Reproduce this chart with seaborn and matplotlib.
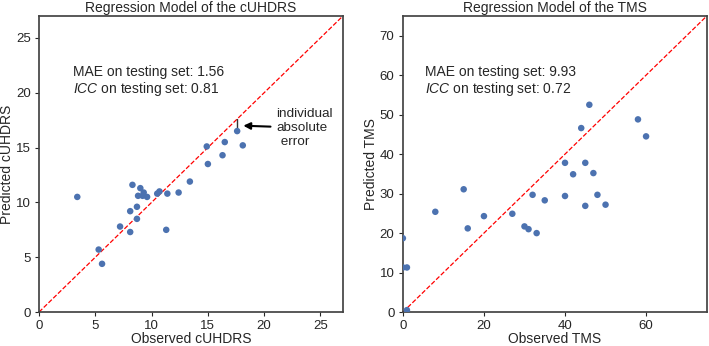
import numpy as np
import pandas as pd
import matplotlib
matplotlib.use('Agg')
import matplotlib.pyplot as plt
import seaborn as sns

# observed vs predicted values
obs_uhdrs = [3.4, 5.3, 5.6, 7.2, 8.1, 8.1, 8.3, 8.7, 8.7, 8.8, 9.0, 9.2, 9.3, 9.6,
             10.5, 10.7, 11.3, 11.4, 12.4, 13.4, 14.9, 15.0, 16.3, 16.5, 17.6, 18.1]
pred_uhdrs = [10.5, 5.7, 4.4, 7.8, 7.3, 9.2, 11.6, 8.5, 9.6, 10.6, 11.3, 10.6, 10.9, 10.5,
              10.8, 11.0, 7.5, 10.8, 10.9, 11.9, 15.1, 13.5, 14.3, 15.5, 16.5, 15.2]

obs_tms = [0, 0, 1, 1, 8, 15, 16, 20, 27, 30, 31, 32, 33, 35, 40, 40, 42, 44, 45, 45,
           46, 47, 48, 50, 58, 60]
pred_tms = [18.7, 11.3, 11.3, 0.5, 25.4, 31.1, 21.2, 24.3, 24.9, 21.7, 21.0, 29.7, 20.0,
            28.3, 37.8, 29.4, 34.9, 46.6, 37.8, 26.9, 52.5, 35.2, 29.7, 27.2, 48.8, 44.5]

uhdrs = pd.DataFrame({'obs': obs_uhdrs, 'pred': pred_uhdrs})
tms = pd.DataFrame({'obs': obs_tms, 'pred': pred_tms})

sns.set_theme(style='ticks')
plt.rcParams['font.family'] = ['Liberation Sans', 'DejaVu Sans']
plt.rcParams['mathtext.fontset'] = 'custom'
plt.rcParams['mathtext.it'] = 'Liberation Sans:italic'

fig, axes = plt.subplots(1, 2, figsize=(7.09, 3.46), dpi=100)
fig.subplots_adjust(left=0.055, right=0.997, top=0.954, bottom=0.098, wspace=0.197)

panels = [
    (axes[0], uhdrs, 27, [0, 5, 10, 15, 20, 25], 'cUHDRS', '1.56', '0.81', 0.112),
    (axes[1], tms, 75, [0, 20, 40, 60], 'TMS', '9.93', '0.72', 0.074),
]
for ax, df, lim, xt, name, mae, icc, tx in panels:
    ax.plot([0, lim], [0, lim], ls='--', color='red', lw=0.9, zorder=1)
    sns.scatterplot(data=df, x='obs', y='pred', ax=ax, s=22, color='#4C72B0',
                    edgecolor='none', zorder=3)
    ax.set_xlim(0, lim)
    ax.set_ylim(0, lim)
    ax.set_xticks(xt)
    ax.set_title('Regression Model of the ' + name, fontsize=10, pad=3)
    ax.set_xlabel('Observed ' + name, fontsize=10, labelpad=0)
    ax.set_ylabel('Predicted ' + name, fontsize=10, labelpad=1)
    ax.tick_params(labelsize=9.5, length=3, pad=3, width=0.8)
    ax.text(tx, 0.812, 'MAE on testing set: ' + mae, transform=ax.transAxes,
            fontsize=10, va='center')
    ax.text(tx, 0.753, '$\\mathit{ICC}$ on testing set: ' + icc,
            transform=ax.transAxes, fontsize=10, va='center')
    for sp in ax.spines.values():
        sp.set_color('#444444')

# individual absolute error marker on the left panel
ax = axes[0]
ax.plot([obs_uhdrs[24], obs_uhdrs[24]], [pred_uhdrs[24], obs_uhdrs[24]],
        color='#333333', lw=1)
ax.annotate('individual\nabsolute\n error', xy=(17.9, 17.0), xytext=(21.1, 16.8),
            fontsize=9.7, va='center', ha='left',
            arrowprops=dict(arrowstyle='-|>', color='black', lw=1.5,
                            mutation_scale=10))

fig.savefig('out.png', dpi=100)
